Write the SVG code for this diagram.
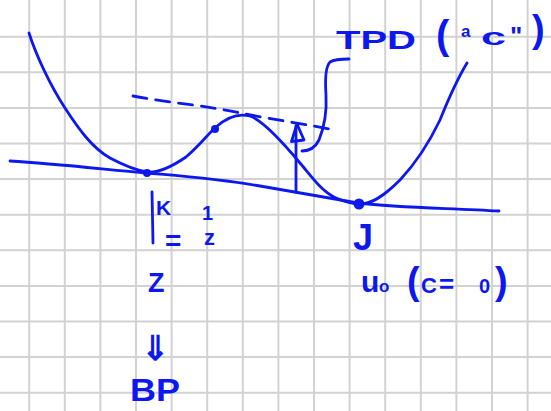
<svg xmlns="http://www.w3.org/2000/svg" width="551" height="411" viewBox="0 0 551 411">
<style>
.grid line{stroke:#d2d2d2;stroke-width:2}
.ink{fill:none;stroke:#0c18ee;stroke-width:2.8;stroke-linecap:round;stroke-linejoin:round}
.dot{fill:#0c18ee}
.t{fill:#0c18ee;font-family:"Liberation Sans",Arial,sans-serif;font-weight:bold}
</style>
<rect width="551" height="411" fill="#ffffff"/>
<g class="grid">
<line x1="29.2" y1="0" x2="29.2" y2="411"/>
<line x1="64.8" y1="0" x2="64.8" y2="411"/>
<line x1="100.4" y1="0" x2="100.4" y2="411"/>
<line x1="136" y1="0" x2="136" y2="411"/>
<line x1="171.6" y1="0" x2="171.6" y2="411"/>
<line x1="207.2" y1="0" x2="207.2" y2="411"/>
<line x1="242.8" y1="0" x2="242.8" y2="411"/>
<line x1="278.4" y1="0" x2="278.4" y2="411"/>
<line x1="314" y1="0" x2="314" y2="411"/>
<line x1="349.6" y1="0" x2="349.6" y2="411"/>
<line x1="385.2" y1="0" x2="385.2" y2="411"/>
<line x1="420.8" y1="0" x2="420.8" y2="411"/>
<line x1="456.4" y1="0" x2="456.4" y2="411"/>
<line x1="492" y1="0" x2="492" y2="411"/>
<line x1="527.6" y1="0" x2="527.6" y2="411"/>
<line x1="0" y1="36.7" x2="551" y2="36.7"/>
<line x1="0" y1="72.3" x2="551" y2="72.3"/>
<line x1="0" y1="107.9" x2="551" y2="107.9"/>
<line x1="0" y1="143.5" x2="551" y2="143.5"/>
<line x1="0" y1="179.1" x2="551" y2="179.1"/>
<line x1="0" y1="214.7" x2="551" y2="214.7"/>
<line x1="0" y1="250.3" x2="551" y2="250.3"/>
<line x1="0" y1="285.9" x2="551" y2="285.9"/>
<line x1="0" y1="321.5" x2="551" y2="321.5"/>
<line x1="0" y1="357.1" x2="551" y2="357.1"/>
<line x1="0" y1="392.7" x2="551" y2="392.7"/>
</g>
<g id="curves">
<path class="ink" d="M29,33 C36,55 50,85 65,108 C78,128 92,148 110,158 C125,166 135,170 147,172 C158,173 170,168 186,157 C200,145 208,134 216,127 C226,118 238,113 250,116 C264,121 285,145 300,163 C312,177 322,192 336,198 C345,202 352,204 360,204 C372,204 384,196 400,180 C415,164 428,145 440,120 C448,100 458,78 467,63"/>
<path class="ink" d="M10,161 C60,164 110,170 147,173 C180,176 220,179 260,186 C300,193 330,198 358,203 C400,208 450,208 499,211"/>
<path class="ink" stroke-dasharray="14 9" d="M133,96 C170,103 210,106 240,113 C270,119 305,124 334,130"/>
</g>
<g id="points">
<circle class="dot" cx="147" cy="173" r="4"/>
<circle class="dot" cx="215" cy="129" r="4"/>
<circle class="dot" cx="359" cy="204" r="5.5"/>
</g>
<g id="connectors">
<path class="ink" d="M296,192 L296,126"/>
<path class="ink" d="M291.5,141.5 L297,124 L304,140 Z"/>
<path class="ink" d="M302,151 C308,151 315,148 319,140 C325,125 327,112 326,95 C325,80 325,67 330,62 C335,59 342,59 349,59"/>
</g>
<g id="label-tpd">
<text class="t" x="336" y="49" font-size="25" textLength="80" lengthAdjust="spacingAndGlyphs">TPD</text>
<text class="t" x="436" y="49" font-size="40" font-weight="normal">(</text>
<text class="t" x="461" y="37" font-size="17">a</text>
<text class="t" x="481" y="45" font-size="24" textLength="25" lengthAdjust="spacingAndGlyphs">c</text>
<text class="t" x="510" y="45" font-size="26">"</text>
<text class="t" x="532" y="42" font-size="38" font-weight="normal">)</text>
</g>
<g id="label-k">
<line class="ink" x1="152" y1="192" x2="153" y2="243"/>
<text class="t" x="156" y="215" font-size="21">K</text>
<text class="t" x="165" y="250" font-size="28">=</text>
<text class="t" x="202" y="220" font-size="20">1</text>
<text class="t" x="204" y="245" font-size="22">z</text>
</g>
<g id="label-z">
<text class="t" x="148" y="292" font-size="27">Z</text>
<text class="t" x="141" y="360" font-size="34" font-family="DejaVu Sans">⇓</text>
<text class="t" x="130" y="401" font-size="31" textLength="50" lengthAdjust="spacingAndGlyphs">BP</text>
</g>
<g id="label-j">
<text class="t" x="353" y="250" font-size="36">J</text>
<text class="t" x="361" y="292" font-size="30">u</text>
<text class="t" x="379" y="292" font-size="17">o</text>
<text class="t" x="407" y="294" font-size="38" font-weight="normal">(</text>
<text class="t" x="421" y="293" font-size="22">C</text>
<text class="t" x="439" y="293" font-size="26">=</text>
<text class="t" x="479" y="293" font-size="20">0</text>
<text class="t" x="495" y="294" font-size="38" font-weight="normal">)</text>
</g>
</svg>
